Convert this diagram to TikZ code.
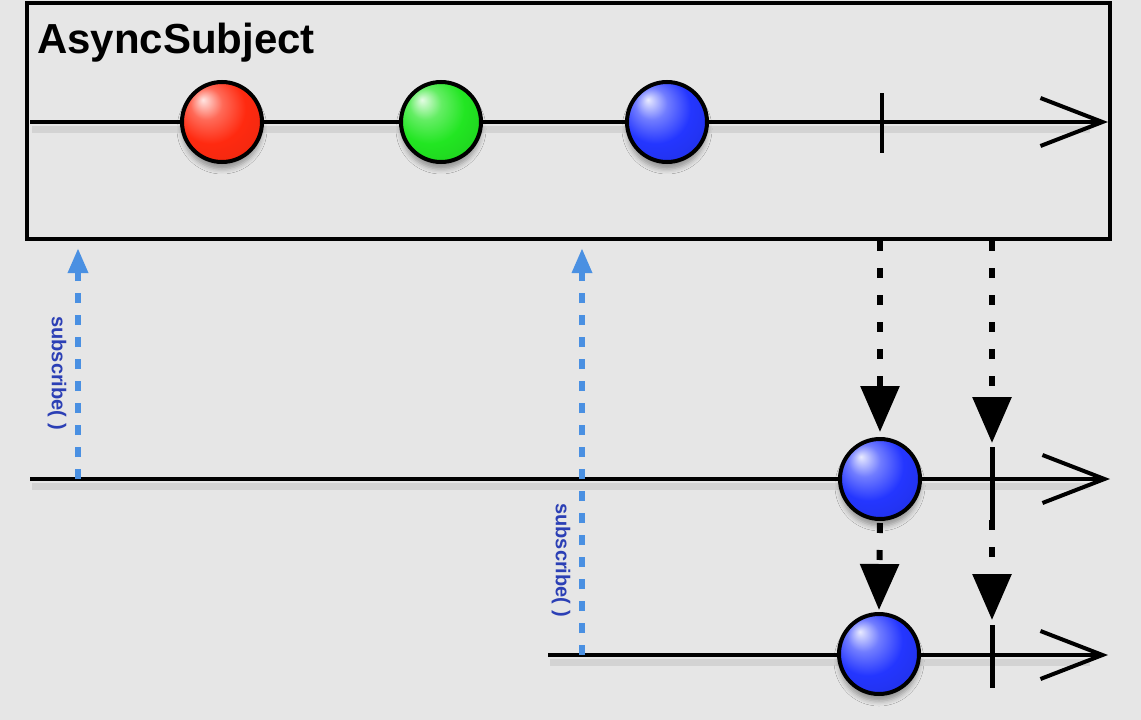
\documentclass[tikz,border=0pt]{standalone}
\usepackage{fontspec}
\setmainfont{Liberation Sans}
\usetikzlibrary{arrows.meta,shadows.blur}
\definecolor{bg}{HTML}{E6E6E6}
\definecolor{subblue}{HTML}{4A90E2}
\definecolor{labblue}{HTML}{2B3FB5}
\definecolor{ballred}{HTML}{FF2A10}
\definecolor{ballgreen}{HTML}{22E622}
\definecolor{ballblue}{HTML}{2436FF}
\pgfdeclareradialshading{redball}{\pgfpoint{-12bp}{14bp}}{%
  color(0bp)=(ballred!12!white); color(10bp)=(ballred!70!white); color(22bp)=(ballred);
  color(40bp)=(ballred!92!black); color(55bp)=(ballred!70!black)}
\pgfdeclareradialshading{greenball}{\pgfpoint{-12bp}{14bp}}{%
  color(0bp)=(ballgreen!12!white); color(10bp)=(ballgreen!70!white); color(22bp)=(ballgreen);
  color(40bp)=(ballgreen!88!black); color(55bp)=(ballgreen!65!black)}
\pgfdeclareradialshading{blueball}{\pgfpoint{-12bp}{14bp}}{%
  color(0bp)=(ballblue!10!white); color(10bp)=(ballblue!65!white); color(22bp)=(ballblue);
  color(40bp)=(ballblue!88!black); color(55bp)=(ballblue!65!black)}
\begin{document}
\begin{tikzpicture}[x=1pt,y=-1pt,
  timeline/.style={line width=4pt, -{Straight Barb[length=62pt,width=48pt]}},
  lineshadow/.style={line width=7pt, black, opacity=0.08},
  tickmark/.style={line width=5pt},
  ball/.style={circle, draw=black, line width=4pt, minimum size=80pt, inner sep=0pt,
    blur shadow={shadow xshift=0pt, shadow yshift=-7pt, shadow blur radius=5pt, shadow opacity=35}},
  emit/.style={line width=6pt, dash pattern=on 10pt off 17pt, -{Triangle[width=38pt,length=46pt]}},
  subarrow/.style={subblue, line width=6pt, dash pattern=on 10pt off 12pt, -{Triangle[width=19pt,length=25pt]}},
  sublabel/.style={labblue, font=\bfseries\fontsize{20}{20}\selectfont, rotate=-90, inner sep=0pt}
]
\useasboundingbox[fill=bg] (0,0) rectangle (1141,720);

% subject box
\draw[line width=4pt] (27,3) rectangle (1110,239);
\node[anchor=base west, inner sep=0pt, font=\bfseries\fontsize{42}{42}\selectfont] (title) at (37,53) {AsyncSubject};

% timelines (shadows first)
\draw[lineshadow] (32,129) -- (1090,129);
\draw[lineshadow] (32,486) -- (1090,486);
\draw[lineshadow] (550,662) -- (1090,662);

\coordinate (l0s) at (30,122);   \coordinate (l0e) at (1108,122);
\coordinate (l1s) at (30,479);   \coordinate (l1e) at (1110,479);
\coordinate (l2s) at (548,655);  \coordinate (l2e) at (1108,655);
\draw[timeline] (l0s) -- (l0e);
\draw[timeline] (l1s) -- (l1e);
\draw[timeline] (l2s) -- (l2e);

% completion ticks
\coordinate (t0a) at (882,93);  \coordinate (t0b) at (882,153);
\coordinate (t1a) at (992,447); \coordinate (t1b) at (992,520);
\coordinate (t2a) at (992,625); \coordinate (t2b) at (992,688);
\draw[tickmark, line width=4pt] (t0a) -- (t0b);
\draw[tickmark] (t1a) -- (t1b);
\draw[tickmark] (t2a) -- (t2b);

% subscribe arrows
\coordinate (s1a) at (78,479);  \coordinate (s1b) at (78,248);
\coordinate (s2a) at (582,655); \coordinate (s2b) at (582,248);
\draw[subarrow] (s1a) -- (s1b);
\draw[subarrow] (s2a) -- (s2b);
\node[sublabel] (lab1) at (57,373) {subscribe( )};
\node[sublabel] (lab2) at (561,560) {subscribe( )};

% balls
\node[ball, shading=redball]   (r)  at (222,122) {};
\node[ball, shading=greenball] (g)  at (441,122) {};
\node[ball, shading=blueball]  (b0) at (667,122) {};
\node[ball, shading=blueball]  (b1) at (880,479) {};
\node[ball, shading=blueball]  (b2) at (879,654) {};

% emissions
\coordinate (e1) at (880,241);
\coordinate (e2) at (992,241);
\draw[emit, shorten >=5pt] (e1) -- (b1.north);
\draw[emit, shorten >=4pt] (e2) -- (t1a);
\draw[emit, shorten <=2pt, shorten >=2pt] (b1.south) -- (b2.north);
\draw[emit, shorten >=5pt] (t1b) -- (t2a);
\end{tikzpicture}
\end{document}
